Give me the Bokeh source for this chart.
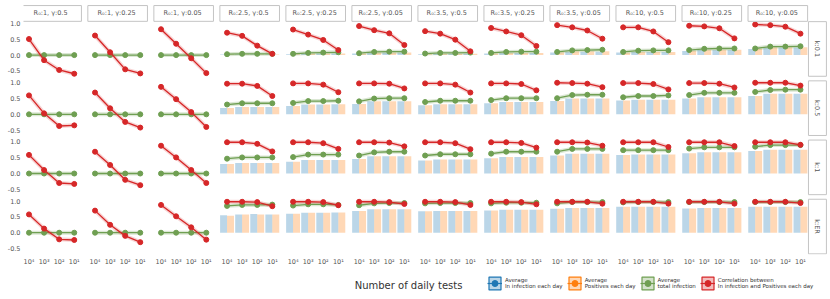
import math
import pandas as pd
from bokeh.plotting import figure
from bokeh.layouts import column
from bokeh.models import Range1d, FixedTicker, ColumnDataSource, Legend, LegendItem, Label
from bokeh.core.properties import value
from bokeh.transform import dodge
from bokeh.embed import file_html
from bokeh.resources import INLINE

# ---------------- data ----------------
R0 = ["1", "1", "1", "2.5", "2.5", "2.5", "3.5", "3.5", "3.5", "10", "10", "10"]
gamma = ["0.5", "0.25", "0.05", "0.5", "0.25", "0.05", "0.5", "0.25", "0.05", "0.5", "0.25", "0.05"]
k_labels = ["0.1", "0.5", "1", "ER"]
tests = ["10⁴", "10³", "10²", "10¹"]

# correlation between infection and positives (red)
corr_k01 = [[0.51, -0.16, -0.47, -0.59], [0.62, 0.09, -0.45, -0.58], [0.82, 0.36, -0.10, -0.57],
            [0.71, 0.61, 0.30, 0.04], [0.81, 0.65, 0.48, 0.16], [0.92, 0.79, 0.69, 0.32],
            [0.76, 0.68, 0.49, 0.12], [0.86, 0.75, 0.63, 0.29], [0.95, 0.88, 0.78, 0.52],
            [0.88, 0.88, 0.75, 0.41], [0.93, 0.91, 0.85, 0.53], [0.97, 0.95, 0.90, 0.68]]
corr_k05 = [[0.60, 0.03, -0.37, -0.35], [0.69, 0.19, -0.24, -0.42], [0.87, 0.48, 0.07, -0.40],
            [0.97, 0.97, 0.90, 0.58], [0.98, 0.98, 0.94, 0.70], [0.98, 0.98, 0.97, 0.82],
            [0.98, 0.98, 0.94, 0.69], [0.98, 0.98, 0.96, 0.76], [1.00, 0.99, 0.97, 0.86],
            [0.99, 0.99, 0.96, 0.79], [0.99, 0.99, 0.97, 0.85], [1.00, 1.00, 1.00, 0.91]]
corr_k1 = [[0.59, 0.11, -0.30, -0.33], [0.69, 0.27, -0.20, -0.37], [0.88, 0.51, 0.11, -0.30],
           [0.99, 0.99, 0.94, 0.70], [0.99, 0.99, 0.96, 0.78], [0.99, 0.99, 0.98, 0.86],
           [0.99, 0.99, 0.96, 0.77], [0.99, 0.99, 0.97, 0.82], [0.99, 0.99, 0.98, 0.88],
           [0.99, 0.99, 0.99, 0.84], [0.99, 0.99, 0.99, 0.87], [0.99, 0.99, 0.99, 0.91]]
corr_kER = [[0.58, 0.13, -0.21, -0.23], [0.70, 0.25, -0.10, -0.30], [0.88, 0.52, 0.17, -0.22],
            [0.98, 0.98, 0.97, 0.84], [0.98, 0.98, 0.97, 0.87], [0.98, 0.98, 0.97, 0.91],
            [0.98, 0.98, 0.97, 0.88], [0.98, 0.98, 0.97, 0.90], [0.98, 0.98, 0.98, 0.92],
            [0.98, 0.98, 0.98, 0.92], [0.98, 0.98, 0.98, 0.92], [0.98, 0.98, 0.98, 0.94]]

# average total infection (green)
total_k01 = [[0, 0, 0, 0], [0, 0, 0, 0], [0, 0, 0, 0],
             [0.03, 0.04, 0.04, 0.04], [0.04, 0.07, 0.08, 0.09], [0.06, 0.10, 0.11, 0.11],
             [0.05, 0.07, 0.07, 0.08], [0.07, 0.10, 0.11, 0.11], [0.10, 0.15, 0.16, 0.17],
             [0.10, 0.14, 0.15, 0.15], [0.16, 0.20, 0.21, 0.21], [0.21, 0.27, 0.27, 0.28]]
total_k05 = [[0, 0, 0, 0], [0, 0, 0, 0], [0, 0, 0, 0],
             [0.31, 0.35, 0.35, 0.35], [0.36, 0.42, 0.42, 0.43], [0.41, 0.50, 0.51, 0.51],
             [0.39, 0.43, 0.43, 0.43], [0.45, 0.51, 0.51, 0.51], [0.51, 0.61, 0.62, 0.62],
             [0.54, 0.58, 0.58, 0.60], [0.61, 0.68, 0.68, 0.68], [0.71, 0.77, 0.78, 0.78]]
total_k1 = [[0, 0, 0, 0], [0, 0, 0, 0], [0, 0, 0, 0],
            [0.47, 0.51, 0.51, 0.51], [0.52, 0.60, 0.60, 0.60], [0.57, 0.67, 0.69, 0.69],
            [0.57, 0.61, 0.61, 0.61], [0.63, 0.69, 0.69, 0.69], [0.69, 0.78, 0.78, 0.78],
            [0.74, 0.74, 0.74, 0.74], [0.79, 0.83, 0.83, 0.83], [0.85, 0.90, 0.90, 0.90]]
total_kER = [[0, 0, 0, 0], [0, 0, 0, 0], [0, 0, 0, 0],
             [0.85, 0.88, 0.88, 0.89], [0.86, 0.90, 0.90, 0.88], [0.87, 0.93, 0.94, 0.94],
             [0.93, 0.94, 0.94, 0.94], [0.93, 0.95, 0.95, 0.95], [0.93, 0.97, 0.97, 0.97],
             [0.96, 0.97, 0.97, 0.97], [0.97, 0.97, 0.97, 0.97], [0.97, 0.97, 0.97, 0.97]]

# average in infection each day (blue bars)
inf_k01 = [[0, 0, 0, 0], [0, 0, 0, 0], [0, 0, 0, 0],
           [0.02, 0.02, 0.02, 0.02], [0.03, 0.05, 0.05, 0.05], [0.05, 0.08, 0.08, 0.08],
           [0.03, 0.04, 0.04, 0.04], [0.05, 0.07, 0.07, 0.07], [0.08, 0.11, 0.11, 0.11],
           [0.08, 0.10, 0.10, 0.10], [0.13, 0.16, 0.16, 0.16], [0.19, 0.24, 0.24, 0.24]]
inf_k05 = [[0, 0, 0, 0], [0, 0, 0, 0], [0, 0, 0, 0],
           [0.20, 0.23, 0.23, 0.23], [0.26, 0.31, 0.31, 0.32], [0.33, 0.41, 0.41, 0.41],
           [0.29, 0.32, 0.32, 0.32], [0.35, 0.39, 0.39, 0.39], [0.42, 0.50, 0.50, 0.50],
           [0.44, 0.46, 0.46, 0.46], [0.50, 0.54, 0.54, 0.54], [0.58, 0.65, 0.65, 0.65]]
inf_k1 = [[0, 0, 0, 0], [0, 0, 0, 0], [0, 0, 0, 0],
          [0.30, 0.33, 0.33, 0.33], [0.37, 0.43, 0.43, 0.43], [0.46, 0.55, 0.55, 0.55],
          [0.41, 0.44, 0.44, 0.44], [0.48, 0.52, 0.52, 0.52], [0.57, 0.63, 0.63, 0.63],
          [0.59, 0.60, 0.60, 0.60], [0.64, 0.67, 0.67, 0.67], [0.71, 0.75, 0.75, 0.75]]
inf_kER = [[0, 0, 0, 0], [0, 0, 0, 0], [0, 0, 0, 0],
           [0.55, 0.58, 0.59, 0.58], [0.60, 0.63, 0.63, 0.64], [0.69, 0.74, 0.74, 0.74],
           [0.68, 0.69, 0.69, 0.69], [0.70, 0.73, 0.73, 0.73], [0.76, 0.78, 0.78, 0.78],
           [0.82, 0.82, 0.82, 0.82], [0.77, 0.78, 0.78, 0.78], [0.82, 0.82, 0.82, 0.82]]

# average positives each day (orange bars)
pos_k01 = [[0, 0, 0, 0], [0, 0, 0, 0], [0, 0, 0, 0],
           [0.02, 0.02, 0.02, 0.02], [0.03, 0.05, 0.05, 0.05], [0.05, 0.08, 0.08, 0.08],
           [0.03, 0.04, 0.04, 0.04], [0.05, 0.07, 0.07, 0.07], [0.09, 0.12, 0.12, 0.12],
           [0.08, 0.10, 0.10, 0.10], [0.14, 0.17, 0.17, 0.17], [0.20, 0.25, 0.25, 0.25]]
pos_k05 = [[0, 0, 0, 0], [0, 0, 0, 0], [0, 0, 0, 0],
           [0.20, 0.23, 0.23, 0.23], [0.26, 0.31, 0.31, 0.32], [0.33, 0.41, 0.41, 0.41],
           [0.29, 0.32, 0.32, 0.32], [0.35, 0.39, 0.39, 0.39], [0.42, 0.50, 0.50, 0.50],
           [0.44, 0.46, 0.46, 0.46], [0.50, 0.54, 0.54, 0.54], [0.58, 0.65, 0.65, 0.65]]
pos_k1 = [[0, 0, 0, 0], [0, 0, 0, 0], [0, 0, 0, 0],
          [0.30, 0.33, 0.33, 0.33], [0.37, 0.43, 0.43, 0.43], [0.46, 0.55, 0.55, 0.55],
          [0.41, 0.44, 0.44, 0.44], [0.48, 0.52, 0.52, 0.52], [0.57, 0.63, 0.63, 0.63],
          [0.59, 0.60, 0.60, 0.60], [0.64, 0.67, 0.67, 0.67], [0.71, 0.75, 0.75, 0.75]]
pos_kER = [[0, 0, 0, 0], [0, 0, 0, 0], [0, 0, 0, 0],
           [0.54, 0.58, 0.58, 0.58], [0.60, 0.63, 0.63, 0.64], [0.69, 0.74, 0.74, 0.74],
           [0.68, 0.69, 0.69, 0.69], [0.70, 0.73, 0.73, 0.73], [0.76, 0.78, 0.78, 0.78],
           [0.82, 0.82, 0.82, 0.82], [0.77, 0.78, 0.78, 0.78], [0.82, 0.82, 0.82, 0.82]]

corr_rows = [corr_k01, corr_k05, corr_k1, corr_kER]
total_rows = [total_k01, total_k05, total_k1, total_kER]
inf_rows = [inf_k01, inf_k05, inf_k1, inf_kER]
pos_rows = [pos_k01, pos_k05, pos_k1, pos_kER]

# ---------------- layout constants (facet grid) ----------------
P = 4.375   # horizontal pitch of facets (data units)
Q = 1.875   # vertical pitch of facets (data units)
BLUE, ORANGE, GREEN, RED = "#1f77b4", "#ff7f0e", "#6f9f52", "#d62728"
FONT = "DejaVu Sans"
W = 830

recs = []
for r in range(4):
    for c in range(12):
        for i in range(4):
            off = -r * Q
            recs.append(dict(r=r, c=c, x=c * P + i, off=off,
                             corr=off + corr_rows[r][c][i], total=off + total_rows[r][c][i],
                             inf=off + inf_rows[r][c][i], pos=off + pos_rows[r][c][i]))
df = pd.DataFrame(recs)
src = ColumnDataSource(df)

p = figure(width=W, height=268, output_backend="svg", toolbar_location=None,
           x_range=Range1d(-0.364, 53.116), y_range=Range1d(-0.69 - 3 * Q, 1.73),
           min_border_left=23, min_border_right=0, min_border_top=0, min_border_bottom=12)
p.xgrid.visible = False
p.ygrid.visible = False
p.outline_line_color = None

# bars
p.vbar(x=dodge("x", -0.23), width=0.46, bottom="off", top="inf", source=src,
       fill_color=BLUE, fill_alpha=0.3, line_color=None)
p.vbar(x=dodge("x", 0.23), width=0.46, bottom="off", top="pos", source=src,
       fill_color=ORANGE, fill_alpha=0.3, line_color=None)

# lines per facet
xs, ys_t, ys_c = [], [], []
for (r, c), g in df.groupby(["r", "c"]):
    xs.append(list(g["x"]))
    ys_t.append(list(g["total"]))
    ys_c.append(list(g["corr"]))
p.multi_line(xs=xs, ys=ys_t, line_color=GREEN, line_width=4, line_alpha=0.25)
p.multi_line(xs=xs, ys=ys_t, line_color=GREEN, line_width=1.3)
p.scatter("x", "total", source=src, size=5, color=GREEN)
p.multi_line(xs=xs, ys=ys_c, line_color=RED, line_width=4, line_alpha=0.2)
p.multi_line(xs=xs, ys=ys_c, line_color=RED, line_width=1.3)
p.scatter("x", "corr", source=src, size=5, color=RED)

# facet headers (columns)
hx = [c * P + 1.5 for c in range(12)]
htxt = ["R₀:%s,  γ:%s" % (a, b) for a, b in zip(R0, gamma)]
p.rect(x=hx, y=[1.32] * 12, width=3.95, height=0.5, fill_color="white",
       line_color="#c4c4c4", line_width=1)
p.text(x=hx, y=[1.32] * 12, text=htxt, text_align="center", text_baseline="middle",
       text_font_size="6.5px", text_color="#555555", text_font=value(FONT))

# facet strips (rows)
sx = [52.25] * 4
sy = [-r * Q + 0.195 for r in range(4)]
p.rect(x=sx, y=sy, width=1.19, height=1.73, fill_color="white",
       line_color="#c4c4c4", line_width=1)
p.text(x=sx, y=sy, text=["k:" + k for k in k_labels], angle=-math.pi / 2,
       text_align="center", text_baseline="middle",
       text_font_size="6.5px", text_color="#555555", text_font=value(FONT))

# axes
yt = []
ylab = {}
for r in range(4):
    for v, s in zip([-0.5, 0.0, 0.5, 1.0], ["-0.5", "0.0", "0.5", "1.0"]):
        t = -r * Q + v
        yt.append(t)
        ylab[t] = s
p.yaxis.ticker = FixedTicker(ticks=yt)
p.yaxis.major_label_overrides = ylab
xt = []
xlab = {}
for c in range(12):
    for i in range(4):
        t = c * P + i
        xt.append(t)
        xlab[t] = tests[i]
p.xaxis.ticker = FixedTicker(ticks=xt)
p.xaxis.major_label_overrides = xlab
for ax in (p.xaxis[0], p.yaxis[0]):
    ax.axis_line_color = None
    ax.major_tick_line_color = None
    ax.minor_tick_line_color = None
    ax.major_tick_out = 0
    ax.major_tick_in = 0
    ax.minor_tick_out = 0
    ax.major_label_text_font_size = "6.5px"
    ax.major_label_text_color = "#555555"
    ax.major_label_text_font = FONT
    ax.major_label_standoff = 3

# bottom strip: axis title + legend
H2 = 31
p2 = figure(width=W, height=H2, output_backend="svg", toolbar_location=None,
            x_range=Range1d(0, W), y_range=Range1d(0, H2),
            x_axis_type=None, y_axis_type=None,
            min_border_left=0, min_border_right=0, min_border_top=0, min_border_bottom=0)
p2.grid.visible = False
p2.outline_line_color = None
p2.add_layout(Label(x=396, y=14, text="Number of daily tests", text_align="center",
                    text_baseline="middle", text_font_size="10px", text_color="#333333",
                    text_font=FONT))
NAN = float("nan")
items = []
for color, label in [(BLUE, "Average\nIn infection each day"),
                     (ORANGE, "Average\nPositives each day"),
                     (GREEN, "Average\ntotal infection"),
                     (RED, "Correlation between\nIn infection and Positives each day")]:
    q = p2.quad(left=[NAN], right=[NAN], top=[NAN], bottom=[NAN], fill_color=color,
                fill_alpha=0.3, line_color=color, line_width=1.2)
    ln = p2.line(x=[NAN], y=[NAN], line_color=color, line_width=1.2)
    sc = p2.scatter(x=[NAN], y=[NAN], color=color, size=4)
    items.append(LegendItem(label=label, renderers=[q, ln, sc]))
legend = Legend(items=items, orientation="horizontal", location=(464, 8),
                glyph_width=15, glyph_height=16, label_text_font_size="5.5px",
                label_text_color="#333333", label_text_font=FONT, label_standoff=3,
                spacing=4, padding=0, margin=0, border_line_color=None,
                background_fill_alpha=0)
p2.add_layout(legend, "center")

open("out.html", "w").write(file_html(column(p, p2, spacing=0), INLINE))
